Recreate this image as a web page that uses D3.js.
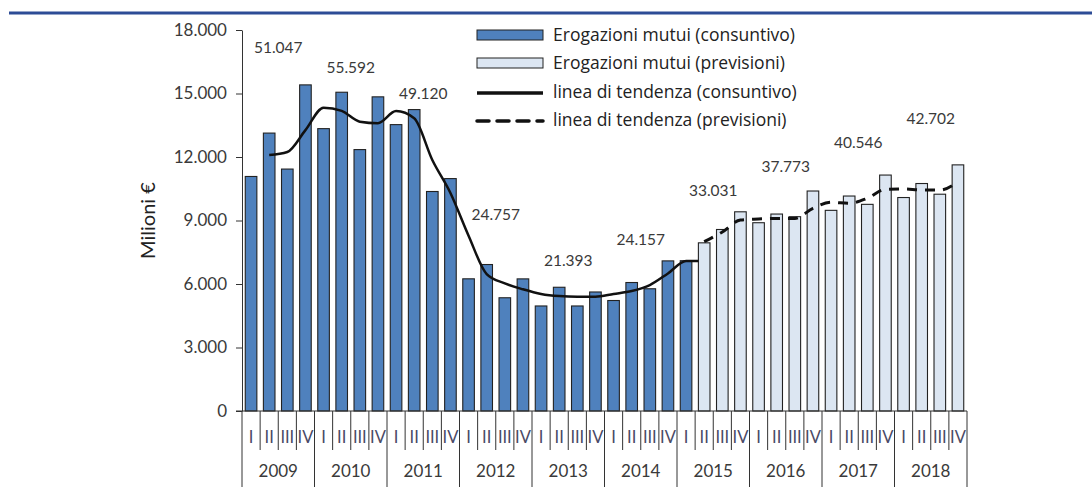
<!DOCTYPE html>
<html>
<head>
<meta charset="utf-8">
<script src="https://cdn.jsdelivr.net/npm/d3@7"></script>
<style>
  html, body { margin: 0; padding: 0; background: #fff; }
  svg { display: block; font-family: Lato, "Open Sans", sans-serif; }
</style>
</head>
<body>
<svg id="chart" width="1092" height="491"></svg>
<script>
// ---- data ----
const years = ['2009', '2010', '2011', '2012', '2013', '2014', '2015', '2016', '2017', '2018'];
const quarters = ['I', 'II', 'III', 'IV'];
// quarterly disbursements, milioni €
const consuntivo = [
  11080, 13130, 11430, 15407,
  13340, 15060, 12350, 14842,
  13530, 14240, 10370, 10980,
  6245, 6920, 5350, 6242,
  4962, 5846, 4962, 5623,
  5220, 6070, 5775, 7092,
  7100
];
const previsioni = [
  7945, 8575, 9411,
  8895, 9305, 9180, 10393,
  9480, 10156, 9763, 11147,
  10085, 10747, 10242, 11628
];
// trend lines (consuntivo from 2009-II, previsioni from 2015-II)
const trendCons = [
  12090, 12235, 13270,
  14330, 14180, 13670, 13600,
  14170, 13830, 11860, 10300,
  8280, 6470, 6030, 5750,
  5530, 5430, 5400, 5400,
  5530, 5670, 5950, 6500,
  7090
];
const trendPrev = [
  8000, 8456, 9020,
  9070, 9100, 9100, 9575,
  9860, 9810, 10050, 10470,
  10490, 10440, 10440, 10830
];
const yearTotals = ['51.047', '55.592', '49.120', '24.757', '21.393', '24.157', '33.031', '37.773', '40.546', '42.702'];
const totalLevels = [17150, 16220, 15020, 9260, 7090, 8080, 10410, 11530, 12680, 13840];
const yTicks = [0, 3000, 6000, 9000, 12000, 15000, 18000];
const legendItems = ['Erogazioni mutui (consuntivo)', 'Erogazioni mutui (previsioni)', 'linea di tendenza (consuntivo)', 'linea di tendenza (previsioni)'];

const keys = [];
years.forEach(yr => quarters.forEach(q => keys.push(yr + '-' + q)));
const bars = consuntivo.map((v, i) => ({key: keys[i], v, prev: false}))
  .concat(previsioni.map((v, i) => ({key: keys[consuntivo.length + i], v, prev: true})));

// ---- layout ----
const svg = d3.select('#chart');
const plotLeft = 242, plotRight = 967, plotTop = 30, plotBase = 411;
const pad = 0.36;
const x = d3.scaleBand().domain(keys).range([plotLeft, plotRight]).paddingInner(pad).paddingOuter(pad / 2);
const y = d3.scaleLinear().domain([0, 18000]).range([plotBase, plotTop]);
const step = x.step();
const edge = k => x(k) - step * pad / 2;
const mid = k => x(k) + x.bandwidth() / 2;
const it = d3.formatLocale({decimal: ',', thousands: '.', grouping: [3], currency: ['', '€']});
const textCol = '#3a3a3a';

const consPts = trendCons.map((v, i) => ({px: mid(keys[i + 1]), v}));
// the solid trend runs flat up to the first forecast quarter
consPts.push({px: x(keys[consuntivo.length]), v: trendCons[trendCons.length - 1]});
const prevPts = trendPrev.map((v, i) => ({px: mid(keys[consuntivo.length + i]), v}));

// top rule
svg.append('line').attr('x1', 9).attr('x2', 1092).attr('y1', 13).attr('y2', 13)
  .attr('stroke', '#2d4c96').attr('stroke-width', 3);

// bars
svg.append('g').selectAll('rect').data(bars).join('rect')
  .attr('x', d => x(d.key))
  .attr('y', d => y(d.v))
  .attr('width', x.bandwidth())
  .attr('height', d => y(0) - y(d.v))
  .attr('fill', d => d.prev ? '#dce6f2' : '#4f81bd')
  .attr('stroke', '#222')
  .attr('stroke-width', 1.1);

// trend lines
const line = d3.line().x(d => d.px).y(d => y(d.v)).curve(d3.curveMonotoneX);
svg.append('path').datum(consPts).attr('d', line)
  .attr('fill', 'none').attr('stroke', '#111').attr('stroke-width', 2.5);
svg.append('path').datum(prevPts).attr('d', line)
  .attr('fill', 'none').attr('stroke', '#111').attr('stroke-width', 3)
  .attr('stroke-dasharray', '10,8');

// y axis
const yAxis = svg.append('g').attr('transform', `translate(${plotLeft},0)`)
  .call(d3.axisLeft(y).tickValues(yTicks).tickFormat(it.format(',')).tickSize(6).tickSizeOuter(0));
yAxis.select('.domain').attr('stroke', '#333');
yAxis.selectAll('.tick line').attr('stroke', '#333');
yAxis.selectAll('.tick text').attr('font-size', 17).attr('fill', textCol).attr('x', -15)
  .attr('font-family', 'Lato, sans-serif');

svg.append('text').attr('transform', `translate(147,${(plotTop + plotBase) / 2}) rotate(-90)`)
  .attr('text-anchor', 'middle').attr('dominant-baseline', 'central')
  .attr('font-size', 20).attr('fill', '#222')
  .text('Milioni €');

// x axis
const xg = svg.append('g');
xg.append('line').attr('x1', plotLeft - 6).attr('x2', plotRight).attr('y1', plotBase).attr('y2', plotBase)
  .attr('stroke', '#333');
xg.selectAll('.qtick').data(keys.filter((k, i) => i % 4 !== 0)).join('line')
  .attr('x1', edge).attr('x2', edge).attr('y1', plotBase).attr('y2', 450)
  .attr('stroke', '#333');
xg.selectAll('.ytick').data(years.map(yr => yr + '-I').concat(['end'])).join('line')
  .attr('x1', k => k === 'end' ? plotRight : edge(k))
  .attr('x2', k => k === 'end' ? plotRight : edge(k))
  .attr('y1', plotBase).attr('y2', 487)
  .attr('stroke', '#333');
xg.selectAll('.qlab').data(keys).join('text')
  .attr('x', mid).attr('y', 443)
  .attr('text-anchor', 'middle').attr('font-size', 16.5).attr('fill', '#4a4a66')
  .text(k => k.split('-')[1]);
xg.selectAll('.ylab').data(years).join('text')
  .attr('x', yr => edge(yr + '-I') + step * 2).attr('y', 477)
  .attr('text-anchor', 'middle').attr('font-size', 17).attr('fill', textCol)
  .text(yr => yr);

// annual totals
svg.selectAll('.tot').data(yearTotals).join('text')
  .attr('x', (t, i) => edge(years[i] + '-I') + step * 2)
  .attr('y', (t, i) => y(totalLevels[i]) + 5.5)
  .attr('text-anchor', 'middle').attr('font-size', 15.5).attr('fill', textCol)
  .text(t => t);

// legend
const lg = svg.append('g').attr('transform', 'translate(477,0)');
const rows = [35, 63, 92, 120];
legendItems.forEach((name, i) => {
  const r = lg.append('g').attr('transform', `translate(0,${rows[i]})`);
  if (i < 2) {
    r.append('rect').attr('x', 0).attr('y', -5).attr('width', 66).attr('height', 10)
      .attr('fill', i === 0 ? '#4f81bd' : '#dce6f2').attr('stroke', '#222');
  } else {
    r.append('line').attr('x1', 0).attr('x2', 66).attr('y1', 1).attr('y2', 1)
      .attr('stroke', '#111').attr('stroke-width', 3.5)
      .attr('stroke-dasharray', i === 3 ? '12,8' : null)
      .attr('stroke-linecap', i === 3 ? 'round' : null);
  }
  r.append('text').attr('x', 76).attr('y', 6)
    .attr('font-family', '"Open Sans", sans-serif')
    .attr('font-size', 17.5).attr('fill', '#222').text(name);
});
</script>
</body>
</html>
